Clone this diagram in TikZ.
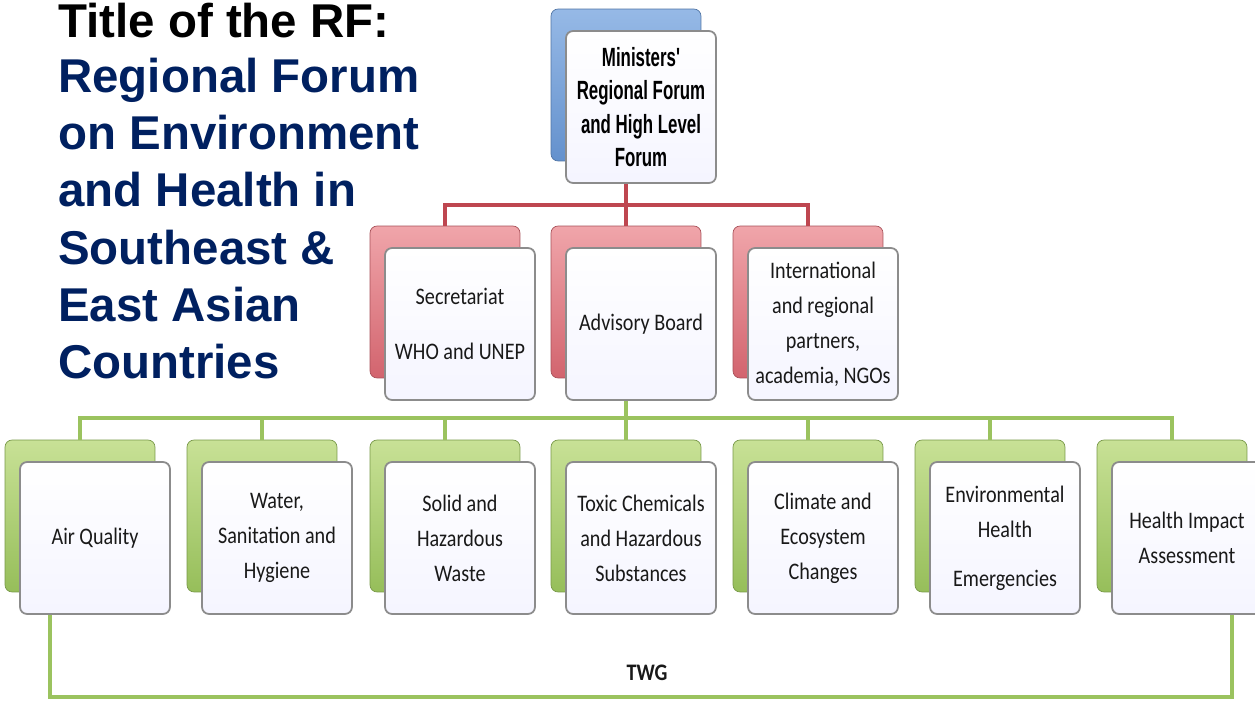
\documentclass[tikz,border=0pt]{standalone}
\usepackage{fontspec}
\setmainfont{Carlito}
\newfontfamily\boxfont{Carlito}[FakeStretch=0.85]
\newfontfamily\topfont{Liberation Sans}[FakeStretch=0.64]
\newfontfamily\titlefont{Liberation Sans}
\definecolor{navy}{RGB}{0,32,96}
\definecolor{redln}{RGB}{190,70,80}
\definecolor{greenln}{RGB}{155,195,95}
\definecolor{bluetop}{RGB}{150,185,230}
\definecolor{bluebot}{RGB}{100,145,205}
\definecolor{redtop}{RGB}{240,165,170}
\definecolor{redbot}{RGB}{210,100,110}
\definecolor{greentop}{RGB}{200,225,150}
\definecolor{greenbot}{RGB}{150,190,90}
\begin{document}
\begin{tikzpicture}[x=0.02cm, y=-0.02cm,
    front/.style = {draw=black!45, line width=1pt, rounded corners=4pt, top color=white, bottom color=blue!4,
                    minimum width=3cm, minimum height=3.04cm, align=center, text=black!90,
                    font=\boxfont\fontsize{13.5}{20}\selectfont},
    back/.style = {rounded corners=4pt, minimum width=3cm, minimum height=3.04cm},
    backblue/.style = {back, draw=bluebot!80!black, top color=bluetop, bottom color=bluebot},
    backred/.style = {back, draw=redbot!80!black, top color=redtop, bottom color=redbot},
    backgreen/.style = {back, draw=greenbot!80!black, top color=greentop, bottom color=greenbot},
    redline/.style = {draw=redln, line width=2.3pt},
    greenline/.style = {draw=greenln, line width=2.6pt}]
    \useasboundingbox (0,0) rectangle (1255,707);

    % title of the forum
    \node[anchor=base west, inner sep=0, font=\titlefont\bfseries\fontsize{27}{32.5}\selectfont] (rftitle) at (58,37) {Title of the RF:};
    \node[anchor=north west, inner sep=0, align=left, text=navy, font=\titlefont\bfseries\fontsize{27}{32.5}\selectfont] (rfname) at (58,58)
        {Regional Forum\\on Environment\\and Health in\\Southeast \&\\East Asian\\Countries};

    % back boxes
    \node[backblue] (topb) at (626,85) {};
    \node[backred] (secb) at (445,302) {};
    \node[backred] (advb) at (626,302) {};
    \node[backred] (intlb) at (808,302) {};
    \foreach \n/\x in {aq/95, wsh/277, shw/460, tchs/641, clim/823, ehe/1005, hia/1187}
        \node[backgreen] (\n b) at (\x-15,516) {};

    % connectors
    \coordinate (rbar) at (626,205);
    \coordinate (gbar) at (626,418);
    \draw[redline] (topb.south) -- (advb.north);
    \draw[redline] (secb.north) |- (rbar) -| (intlb.north);
    \draw[greenline] (advb.south) -- (gbar);
    \foreach \n in {aq, wsh, shw, tchs, clim, ehe, hia}
        \draw[greenline] (\n b.north) |- (gbar);

    % front boxes
    \node[front, text=black, font=\topfont\bfseries\fontsize{15}{19}\selectfont] (top) at (641,107) {Ministers'\\Regional Forum\\and High Level\\Forum};
    \node[front] (sec) at (460,324) {Secretariat\\[11pt]WHO and UNEP};
    \node[front] (adv) at (641,324) {Advisory Board};
    \node[front] (intl) at (823,324) {International\\and regional\\partners,\\academia, NGOs};

    \node[front] (aq) at (95,538) {Air Quality};
    \node[front] (wsh) at (277,538) {Water,\\Sanitation and\\Hygiene};
    \node[front] (shw) at (460,538) {Solid and\\Hazardous\\Waste};
    \node[front] (tchs) at (641,538) {Toxic Chemicals\\and Hazardous\\Substances};
    \node[front] (clim) at (823,538) {Climate and\\Ecosystem\\Changes};
    \node[front] (ehe) at (1005,538) {Environmental\\Health\\[8pt]Emergencies};
    \node[front] (hia) at (1187,538) {Health Impact\\Assessment};

    % TWG bracket
    \coordinate (twgbar) at (641,697);
    \draw[greenline] ([xshift=-0.9cm]aq.south) |- (twgbar) -| ([xshift=0.9cm]hia.south);
    \node[font=\boxfont\bfseries\fontsize{13.5}{16}\selectfont, text=black!90] (twg) at (647,673) {TWG};
\end{tikzpicture}
\end{document}
